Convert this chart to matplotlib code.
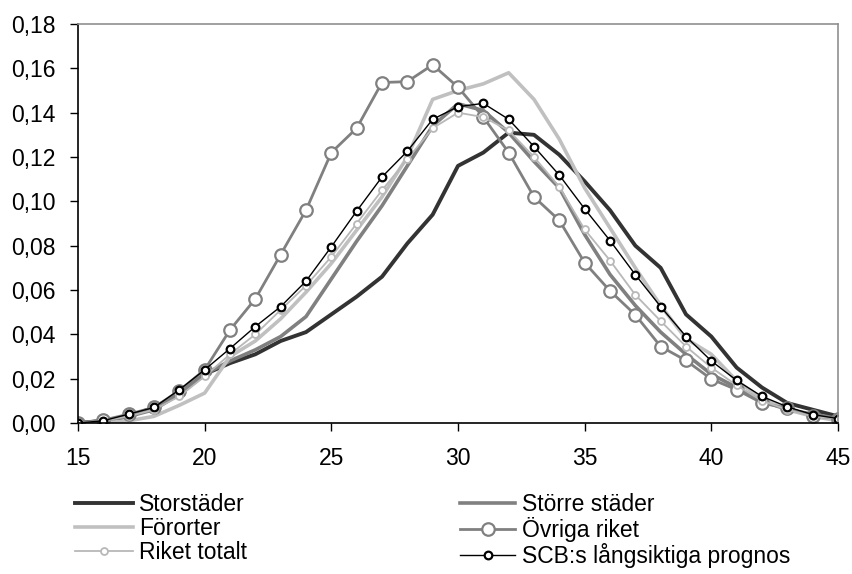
import matplotlib
matplotlib.use("Agg")
import matplotlib.pyplot as plt
from matplotlib.ticker import FuncFormatter, MultipleLocator

plt.rcParams['font.family'] = ['Liberation Sans', 'DejaVu Sans']

ages = list(range(15, 46))

storstader = [0.000, 0.001, 0.003, 0.007, 0.013, 0.022, 0.027, 0.031, 0.037, 0.041,
              0.049, 0.057, 0.066, 0.081, 0.094, 0.116, 0.122, 0.131, 0.130, 0.121,
              0.109, 0.096, 0.080, 0.070, 0.049, 0.039, 0.025, 0.016, 0.009, 0.006, 0.003]
storre_stader = [0.000, 0.001, 0.003, 0.006, 0.013, 0.022, 0.028, 0.033, 0.039, 0.048,
                 0.065, 0.082, 0.098, 0.116, 0.134, 0.144, 0.141, 0.131, 0.118, 0.106,
                 0.085, 0.067, 0.053, 0.041, 0.031, 0.022, 0.016, 0.010, 0.006, 0.004, 0.002]
fororter = [0.000, 0.000, 0.001, 0.003, 0.008, 0.0135, 0.030, 0.037, 0.047, 0.059,
            0.072, 0.087, 0.102, 0.120, 0.146, 0.150, 0.153, 0.158, 0.146, 0.128,
            0.106, 0.088, 0.070, 0.053, 0.038, 0.031, 0.019, 0.011, 0.006, 0.003, 0.001]
ovriga_riket = [0.000, 0.0013, 0.004, 0.007, 0.0146, 0.024, 0.042, 0.056, 0.076, 0.096,
                0.122, 0.133, 0.1536, 0.154, 0.1616, 0.1515, 0.138, 0.122, 0.102, 0.0914,
                0.0723, 0.0596, 0.0488, 0.0345, 0.0282, 0.0198, 0.015, 0.009, 0.0066, 0.0033, 0.002]
riket_totalt = [0.000, 0.001, 0.003, 0.006, 0.012, 0.021, 0.031, 0.040, 0.051, 0.062,
                0.075, 0.090, 0.105, 0.119, 0.133, 0.140, 0.138, 0.132, 0.120, 0.1065,
                0.0873, 0.0733, 0.0578, 0.046, 0.0345, 0.025, 0.017, 0.010, 0.006, 0.003, 0.002]
scb_prognos = [0.000, 0.001, 0.004, 0.007, 0.015, 0.024, 0.0336, 0.0435, 0.0525, 0.064,
               0.0795, 0.0956, 0.111, 0.1226, 0.137, 0.1427, 0.1442, 0.137, 0.1247, 0.1118,
               0.0966, 0.0823, 0.0669, 0.0525, 0.039, 0.028, 0.0192, 0.012, 0.0073, 0.0038, 0.002]

labels = ["Storstäder", "Större städer", "Förorter", "Övriga riket",
          "Riket totalt", "SCB:s långsiktiga prognos"]

FS = 16.5

fig = plt.figure(figsize=(8.52, 5.74), dpi=100)
ax = fig.add_axes([78/852, 151/574, 760/852, 399/574])

l1, = ax.plot(ages, storstader, color='#333333', lw=2.8, solid_joinstyle='round')
l2, = ax.plot(ages, storre_stader, color='#808080', lw=2.6, solid_joinstyle='round')
l3, = ax.plot(ages, fororter, color='#c0c0c0', lw=2.6, solid_joinstyle='round')
l4, = ax.plot(ages, ovriga_riket, color='#808080', lw=2.0, marker='o', ms=9,
              mfc='white', mec='#808080', mew=1.6)
l5, = ax.plot(ages, riket_totalt, color='#b8b8b8', lw=1.3, marker='o', ms=5,
              mfc='white', mec='#b8b8b8', mew=1.3)
l6, = ax.plot(ages, scb_prognos, color='black', lw=1.0, marker='o', ms=5.5,
              mfc='white', mec='black', mew=1.6)

ax.set_xlim(15, 45)
ax.set_ylim(0, 0.18)
ax.xaxis.set_major_locator(MultipleLocator(5))
ax.yaxis.set_major_locator(MultipleLocator(0.02))
ax.yaxis.set_major_formatter(FuncFormatter(lambda v, p: f"{v:.2f}".replace('.', ',')))

ax.spines['top'].set_color('#909090')
ax.spines['right'].set_color('#909090')
ax.spines['left'].set_color('black')
ax.spines['bottom'].set_color('black')
for s in ax.spines.values():
    s.set_linewidth(1.2)

ax.tick_params(axis='y', direction='out', length=5.8, width=1, pad=10.5, labelsize=FS)
ax.tick_params(axis='x', direction='out', length=5.8, width=1, pad=11.5, labelsize=FS)

handles = [l1, l3, l5, l2, l4, l6]
labs = [labels[0], labels[2], labels[4], labels[1], labels[3], labels[5]]

leg1 = fig.legend(handles[:3], labs[:3], loc='upper left',
                  bbox_to_anchor=(75/852, 1 - 493/574), frameon=False, fontsize=FS,
                  handlelength=2.55, handletextpad=0.26, labelspacing=0.05,
                  borderpad=0, borderaxespad=0)
leg2 = fig.legend(handles[3:], labs[3:], loc='upper left',
                  bbox_to_anchor=(460/852, 1 - 493/574), frameon=False, fontsize=FS,
                  handlelength=2.4, handletextpad=0.3, labelspacing=0.05,
                  borderpad=0, borderaxespad=0)

fig.savefig('out.png', dpi=100)
